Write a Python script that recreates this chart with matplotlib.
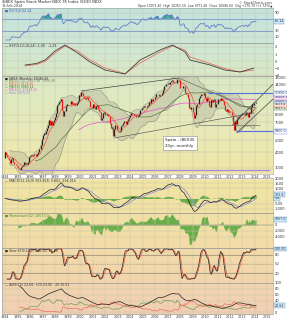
import numpy as np
import pandas as pd
import matplotlib
matplotlib.use("Agg")
import matplotlib.pyplot as plt
from matplotlib.colors import LinearSegmentedColormap
from matplotlib.patches import Rectangle

# $IBEX monthly closes, Jan 1994 .. Feb 2014
c1994 = [4010, 3800, 3640, 3620, 3460, 3280, 3490, 3580, 3300, 3230, 3170, 3088]
c1995 = [2980, 2930, 2880, 3010, 3120, 3140, 3300, 3200, 3280, 3180, 3340, 3631]
c1996 = [3690, 3760, 3700, 3780, 3830, 3880, 3730, 3860, 4010, 4250, 4560, 5154]
c1997 = [5460, 5700, 5580, 5950, 6260, 6680, 7250, 6600, 7150, 6630, 7000, 7255]
c1998 = [7680, 8340, 9620, 9810, 10230, 10340, 10760, 8820, 7870, 8560, 9380, 9837]
c1999 = [9890, 9800, 9770, 10290, 9890, 10040, 9700, 9820, 9590, 9900, 10420, 11641]
c2000 = [11370, 12280, 12080, 11470, 10960, 10820, 11010, 11130, 10580, 10410, 9290, 9110]
c2001 = [9820, 9290, 8900, 9420, 9590, 8900, 8610, 8400, 7210, 7620, 8220, 8398]
c2002 = [8010, 7920, 8180, 7910, 7800, 6900, 6240, 6330, 5430, 6100, 6580, 6037]
c2003 = [5930, 5840, 5880, 6500, 6580, 6890, 7090, 7110, 6800, 7200, 7380, 7737]
c2004 = [8020, 8280, 8100, 8180, 7930, 8010, 7760, 7640, 7890, 8140, 8770, 9081]
c2005 = [9220, 9510, 9310, 9210, 9520, 9690, 10090, 9990, 10780, 10320, 10690, 10734]
c2006 = [11200, 11820, 11850, 11900, 11340, 11550, 11640, 12030, 12640, 13600, 13780, 14146]
c2007 = [14580, 14290, 14640, 15010, 15240, 14890, 14520, 14420, 14370, 15600, 15640, 15182]
c2008 = [13230, 13170, 13270, 13800, 13600, 12050, 11880, 11710, 10990, 9120, 8910, 9196]
c2009 = [8450, 7620, 8000, 9390, 9850, 9790, 10860, 11380, 11760, 11540, 11650, 11940]
c2010 = [10950, 10330, 10870, 10490, 9360, 9260, 10500, 10100, 10510, 10810, 9270, 9859]
c2011 = [10810, 10850, 10580, 10880, 10480, 10360, 9630, 8720, 8550, 8950, 8450, 8566]
c2012 = [8510, 8470, 8010, 7010, 6090, 7100, 6740, 7420, 7710, 7840, 7930, 8168]
c2013 = [8360, 8230, 7920, 8420, 8320, 7760, 8430, 8290, 9190, 9840, 9640, 9917]
c2014 = [9920, 10087]
first_open = 3615

closes = pd.Series(c1994 + c1995 + c1996 + c1997 + c1998 + c1999 + c2000 + c2001 +
                   c2002 + c2003 + c2004 + c2005 + c2006 + c2007 + c2008 + c2009 +
                   c2010 + c2011 + c2012 + c2013 + c2014, dtype=float)
years = list(range(1994, 2016))

# second panel oscillator (year, value)
p2_x = [1995.6, 1996.5, 1997.2, 1998.0, 1998.8, 1999.8, 2000.8, 2002.0, 2003.6,
        2004.8, 2006.4, 2007.4, 2008.4, 2008.8, 2010.4, 2011.6, 2012.8, 2013.9]
p2_line = [-0.57, -0.36, 0.14, 1.43, 2.29, 1.14, -0.14, -1.29, -1.86,
           0.14, 1.57, 2.29, 1.29, 0.14, -0.57, -1.29, -1.57, -1.0]
p2_sig = [-0.71, -0.5, -0.07, 1.14, 2.14, 1.43, 0.14, -1.0, -1.79,
          -0.29, 1.29, 2.14, 1.57, 0.57, -0.36, -1.07, -1.57, -1.29]

# drawn lines on the price panel: (year, price) pairs
tl_upper = [(2000.1, 12500), (2007.9, 15900)]
tl_lower = [(2002.7, 5200), (2013.9, 8300)]
tl_fall = [(2007.9, 15900), (2013.9, 8700)]
tl_up1 = [(2012.2, 6640), (2015.45, 14200)]
tl_up2 = [(2012.55, 5750), (2015.45, 10750)]
lvl_blue_hi = (2010.2, 11950)
lvl_blue_lo = (2012.5, 5900)
lvl_gray = (2009.5, 6650)
lvl_base = (1995.2, 2870)


def mx(yr):
    return (np.asarray(yr) - 1994) * 12


# indicators from the closes
opens = closes.shift(1).fillna(first_open)
up = closes >= opens
ma10 = closes.rolling(10, min_periods=1).mean()
ma50 = closes.rolling(50, min_periods=30).mean()
ma100 = closes.rolling(100, min_periods=72).mean()
bb_mid = closes.rolling(20, min_periods=5).mean()
bb_sd = closes.rolling(20, min_periods=5).std()
bb_up, bb_lo = bb_mid + 2 * bb_sd, bb_mid - 2 * bb_sd

d = closes.diff()
g = d.clip(lower=0).ewm(alpha=1 / 14, adjust=False).mean()
l = (-d.clip(upper=0)).ewm(alpha=1 / 14, adjust=False).mean()
rsi = 100 - 100 / (1 + g / l)

macd = closes.ewm(span=12, adjust=False).mean() - closes.ewm(span=26, adjust=False).mean()
macd_sig = macd.ewm(span=9, adjust=False).mean()
macd_hist = macd - macd_sig

mom = closes - closes.shift(12)

hh = closes.rolling(14, min_periods=3).max()
ll = closes.rolling(14, min_periods=3).min()
k_fast = (closes - ll) / (hh - ll) * 100
sto_k = k_fast.rolling(3, min_periods=1).mean()
sto_d = sto_k.rolling(3, min_periods=1).mean()

hi = pd.concat([opens, closes], axis=1).max(axis=1)
lo = pd.concat([opens, closes], axis=1).min(axis=1)
upm = hi.diff()
dnm = -lo.diff()
pdm = upm.where((upm > dnm) & (upm > 0), 0.0)
ndm = dnm.where((dnm > upm) & (dnm > 0), 0.0)
tr = (pd.concat([hi, hi.shift(1)], axis=1).max(axis=1)
      - pd.concat([lo, lo.shift(1)], axis=1).min(axis=1)) + 1
atr = tr.ewm(alpha=1 / 14, adjust=False).mean()
pdi = 100 * pdm.ewm(alpha=1 / 14, adjust=False).mean() / atr
ndi = 100 * ndm.ewm(alpha=1 / 14, adjust=False).mean() / atr
dx = 100 * (pdi - ndi).abs() / (pdi + ndi)
adx = dx.ewm(alpha=1 / 14, adjust=False).mean()

x = np.arange(len(closes))

# ---- figure
W, H = 287, 320
fig = plt.figure(figsize=(W / 100, H / 100), dpi=100)
fig.patch.set_facecolor("white")


def rect(top, bottom, left=2, right=273):
    return [left / W, 1 - bottom / H, (right - left) / W, (bottom - top) / H]


bg = fig.add_axes(rect(8, 315), zorder=-10)
cmap = LinearSegmentedColormap.from_list("bg", [
    (0.0, "#c4e3de"), (0.12, "#cfe7d4"), (0.22, "#d9e9c6"), (0.40, "#e8eab8"),
    (0.55, "#f1e5a2"), (0.72, "#f2dfa6"), (0.86, "#f2d7ab"), (1.0, "#f1cfb4")])
bg.imshow(np.linspace(0, 1, 200)[:, None], aspect="auto", cmap=cmap,
          extent=[0, 1, 0, 1])
bg.set_axis_off()
fig.add_artist(Rectangle((2 / W, 1 - 178 / H), 271 / W, 4 / H,
                         transform=fig.transFigure, color="white", zorder=-5))

FS = 2.6
GRID = "#c9c6b0"
tags = []


def panel(top, bottom):
    ax = fig.add_axes(rect(top, bottom))
    ax.set_facecolor("none")
    ax.set_xlim(-3, 257.3)
    ax.set_xticks(mx(years))
    ax.tick_params(axis="x", length=0, labelbottom=False)
    ax.yaxis.tick_right()
    ax.tick_params(axis="y", which="both", length=0, labelsize=FS, pad=1.5,
                   colors="#333333")
    ax.grid(True, color=GRID, lw=0.35)
    for s in ax.spines.values():
        s.set_color("#9a9a9a")
        s.set_linewidth(0.4)
    return ax


def tag(ax, y, txt, fc="#d2ecf4", ec="#5a8ab8"):
    tags.append((ax, y, txt, fc, ec))


def place_tags():
    # spread tags apart and hide tick labels that sit under a tag
    for ax in set(t[0] for t in tags):
        items = sorted([t for t in tags if t[0] is ax],
                       key=lambda t: ax.transData.transform((0, t[1]))[1])
        pys = [ax.transData.transform((0, t[1]))[1] for t in items]
        for i in range(1, len(pys)):
            if pys[i] - pys[i - 1] < 3.6:
                pys[i] = pys[i - 1] + 3.6
        for t, py in zip(items, pys):
            yv = ax.transData.inverted().transform((0, py))[1]
            ax.annotate(t[2], xy=(1.0, yv), xycoords=("axes fraction", "data"),
                        xytext=(1.2, 0), textcoords="offset points", fontsize=2.3,
                        va="center", ha="left", color="#223366",
                        bbox=dict(boxstyle="square,pad=0.12", fc=t[3], ec=t[4], lw=0.3))
        keep = []
        for tv in ax.get_yticks():
            ty = ax.transData.transform((0, tv))[1]
            if all(abs(ty - py) > 4.2 for py in pys):
                keep.append(tv)
        ax.set_yticks(keep)
        ax.set_yticklabels([f"{v:g}" for v in keep])


# header
fig.text(2 / W, 1 - 2.5 / H, "$IBEX Spain Stock Market IBEX 35 Index (EOD) INDX",
         fontsize=2.7, va="center", ha="left", color="#222222")
fig.text(2 / W, 1 - 5.6 / H, "18-Feb-2014", fontsize=2.4, va="center", ha="left",
         color="#333333")
fig.text(272 / W, 1 - 2.5 / H, "\u00a9 StockCharts.com", fontsize=2.4, va="center",
         ha="right", color="#444444")
fig.text(272 / W, 1 - 5.6 / H,
         "Open 10071.40  High 10261.50  Low 9771.40  Close 10086.60  Chg +170.70 (+1.72%)\u25b2",
         fontsize=2.2, va="center", ha="right", color="#333333")

# ---- panel 1: RSI
ax1 = panel(8, 43)
ax1.fill_between(x, 70, rsi, where=rsi > 70, color="#3f9c9c", lw=0, interpolate=True)
ax1.plot(x, rsi, color="#5b78c8", lw=0.55)
ax1.axhline(70, color="#6f8cc8", lw=0.5)
ax1.axhline(30, color="#6f8cc8", lw=0.5)
ax1.set_ylim(-10, 106)
ax1.set_yticks([10, 30, 50, 70, 90])
tag(ax1, rsi.iloc[-1], f"{rsi.iloc[-1]:.2f}")
ax1.text(0.012, 0.93, "\u25a0 RSI(14) %.2f" % rsi.iloc[-1], transform=ax1.transAxes,
         fontsize=2.3, va="center", color="#4060b0")

# ---- panel 2: long oscillator
ax2 = panel(43, 76)
ax2.plot(mx(p2_x), p2_sig, color="#e26a5a", lw=0.55)
ax2.plot(mx(p2_x), p2_line, color="#333333", lw=0.55)
ax2.set_ylim(-2.14, 2.57)
ax2.set_yticks([-2, -1, 0, 1, 2])
ax2.text(0.012, 0.92, "\u2014 KST(9,12,18,24) -1.00   -1.29", transform=ax2.transAxes,
         fontsize=2.3, va="center", color="#333333")

# ---- panel 3: price
ax3 = panel(76, 174)
ax3.set_yscale("log")
ax3.set_ylim(2664, 16500)
pt = [3000, 4000, 5000, 6000, 7000, 8000, 9000, 10000, 11000, 12000, 14000, 16000]
ax3.set_yticks(pt)
ax3.minorticks_off()
ax3.fill_between(x, bb_lo, bb_up, color="#9a9a8a", alpha=0.28, lw=0)
ax3.plot(x, bb_up, color="#8a8a80", lw=0.35)
ax3.plot(x, bb_lo, color="#8a8a80", lw=0.35)
ax3.plot(x, ma100, color="#e060c8", lw=0.55)
ax3.plot(x, ma50, color="#4f6e3c", lw=0.45)
ax3.plot(x, ma10, color="#e8604a", lw=0.55)
ax3.vlines(x[up], opens[up], closes[up], color="#222222", lw=0.9)
ax3.vlines(x[~up], opens[~up], closes[~up], color="#e8201a", lw=0.9)

for seg, col, lw in [(tl_upper, "#333333", 0.45), (tl_lower, "#555555", 0.45),
                     (tl_fall, "#555555", 0.4), (tl_up1, "#333333", 0.45),
                     (tl_up2, "#333333", 0.45)]:
    ax3.plot(mx([seg[0][0], seg[1][0]]), [seg[0][1], seg[1][1]], color=col, lw=lw)
ax3.hlines(lvl_blue_hi[1], mx(lvl_blue_hi[0]), 257.3, color="#5a6be0", lw=0.8)
ax3.hlines(lvl_blue_lo[1], mx(lvl_blue_lo[0]), 257.3, color="#5a6be0", lw=0.8)
ax3.hlines(lvl_gray[1], mx(lvl_gray[0]), mx(2014.4), color="#666666", lw=0.45)
ax3.hlines(lvl_base[1], mx(lvl_base[0]), mx(2015.2), color="#a08ae0", lw=0.9)

leg = [("\u25a0 $IBEX (Monthly) 10086.60", "#222222"),
       ("\u2014 BB(20,2.0) 11037.48  7958.98", "#777777"),
       ("\u2014 MA(10) %.2f" % ma10.iloc[-1], "#e8604a"),
       ("\u2014 MA(50) %.2f" % ma50.iloc[-1], "#4f6e3c"),
       ("\u2014 MA(100) %.2f" % ma100.iloc[-1], "#e060c8"),
       ("\u2014 Base 2870.00", "#9a86dc")]
for i, (t, c) in enumerate(leg):
    ax3.text(0.012, 1 - (2.6 + 2.9 * i) / 98, t, transform=ax3.transAxes,
             fontsize=2.2, va="center", color=c)
ax3.text((165 - 2) / 271, 1 - (138 - 76) / 98, "Spain - IBEX35\n20yr, monthly",
         transform=ax3.transAxes, fontsize=2.9, va="top", ha="left",
         linespacing=1.5, color="#222222",
         bbox=dict(boxstyle="square,pad=0.6", fc="white", ec="#888888", lw=0.4))
tag(ax3, lvl_blue_hi[1], "11950.0", fc="#ffffff", ec="#5a6be0")
tag(ax3, ma50.iloc[-1], "%.1f" % ma50.iloc[-1], fc="#e8f0d8", ec="#4f6e3c")
tag(ax3, closes.iloc[-1], "10086.6")
tag(ax3, ma100.iloc[-1], "%.1f" % ma100.iloc[-1], fc="#fbe0f4", ec="#e060c8")
tag(ax3, ma10.iloc[-1], "%.1f" % ma10.iloc[-1], fc="#fde2dc", ec="#e8604a")
tag(ax3, lvl_blue_lo[1], "5900.0", fc="#ffffff", ec="#5a6be0")
ax3.tick_params(axis="x", labelbottom=True, labelsize=2.4, pad=0.6, colors="#333333")
ax3.set_xticklabels([str(y) for y in years])

# ---- panel 4: MACD
ax4 = panel(178, 213)
ax4.fill_between(x, 0, macd_hist, color="#6aae4a", lw=0)
ax4.plot(x, macd_sig, color="#8c8cd8", lw=0.55)
ax4.plot(x, macd, color="#222222", lw=0.5)
lo4, hi4 = macd.min(), macd.max()
ax4.set_ylim(lo4 - 0.05 * (hi4 - lo4), hi4 + 0.12 * (hi4 - lo4))
ax4.set_yticks([-1000, -500, 0, 500, 1000, 1500, 2000])
ax4.text(0.012, 0.92, "\u2014 MACD(12,26,9) %.3f, %.3f, %.3f" %
         (macd.iloc[-1], macd_sig.iloc[-1], macd_hist.iloc[-1]),
         transform=ax4.transAxes, fontsize=2.3, va="center", color="#333333")
tag(ax4, macd.iloc[-1], "%.1f" % macd.iloc[-1])
tag(ax4, macd_sig.iloc[-1], "%.1f" % macd_sig.iloc[-1])

# ---- panel 5: momentum
ax5 = panel(213, 248)
ax5.fill_between(x, 0, mom, color="#6aae4a", lw=0)
ax5.axhline(0, color="#888888", lw=0.3)
ax5.set_ylim(-7700, 4000)
ax5.set_yticks([-4000, -2000, 0, 2000])
ax5.text(0.012, 0.92, "\u25a0 Momentum(12) %.2f" % mom.iloc[-1], transform=ax5.transAxes,
         fontsize=2.3, va="center", color="#4a8a30")
tag(ax5, mom.iloc[-1], "%.1f" % mom.iloc[-1])

# ---- panel 6: slow stochastic
ax6 = panel(248, 283)
ax6.axhline(80, color="#9c8c70", lw=0.5)
ax6.axhline(20, color="#9c8c70", lw=0.5)
ax6.axhline(50, color="#9c8c70", lw=0.4, ls=(0, (2, 2)))
ax6.plot(x, sto_d, color="#e8604a", lw=0.55)
ax6.plot(x, sto_k, color="#222222", lw=0.5)
ax6.set_ylim(-13, 103)
ax6.set_yticks([20, 50, 80])
ax6.text(0.012, 0.92, "\u25a0 Slow STO(14,3) %.2f, %.2f" % (sto_k.iloc[-1], sto_d.iloc[-1]),
         transform=ax6.transAxes, fontsize=2.3, va="center", color="#333333")
tag(ax6, sto_k.iloc[-1], "%.2f" % sto_k.iloc[-1])

# ---- panel 7: ADX
ax7 = panel(283, 314)
sl = slice(14, None)
ax7.plot(x[sl], pdi[sl], color="#7a9a5a", lw=0.5)
ax7.plot(x[sl], ndi[sl], color="#f06a5a", lw=0.5)
ax7.plot(x[sl], adx[sl], color="#222222", lw=0.5)
vals = pd.concat([pdi[sl], ndi[sl], adx[sl]])
v_lo, v_hi = vals.quantile(0.02), vals.quantile(0.985)
span7 = v_hi - v_lo
ax7.set_ylim(v_lo - 0.12 * span7, v_hi + 0.18 * span7)
step7 = 10 if span7 <= 55 else 20
ax7.set_yticks(np.arange(0, 101, step7))
ax7.text(0.012, 0.92, "\u2014 ADX(14) %.2f  +DI %.2f  -DI %.2f" %
         (adx.iloc[-1], pdi.iloc[-1], ndi.iloc[-1]),
         transform=ax7.transAxes, fontsize=2.3, va="center", color="#333333")
tag(ax7, adx.iloc[-1], "%.2f" % adx.iloc[-1])
ax7.tick_params(axis="x", labelbottom=True, labelsize=2.4, pad=0.8, colors="#333333")
ax7.set_xticklabels([str(y) for y in years])

for ax in (ax1, ax2, ax3, ax4, ax5, ax6, ax7):
    lo_, hi_ = ax.get_ylim()
    ax.set_ylim(lo_, hi_)
place_tags()

fig.savefig("out.png", dpi=100, facecolor="white")
